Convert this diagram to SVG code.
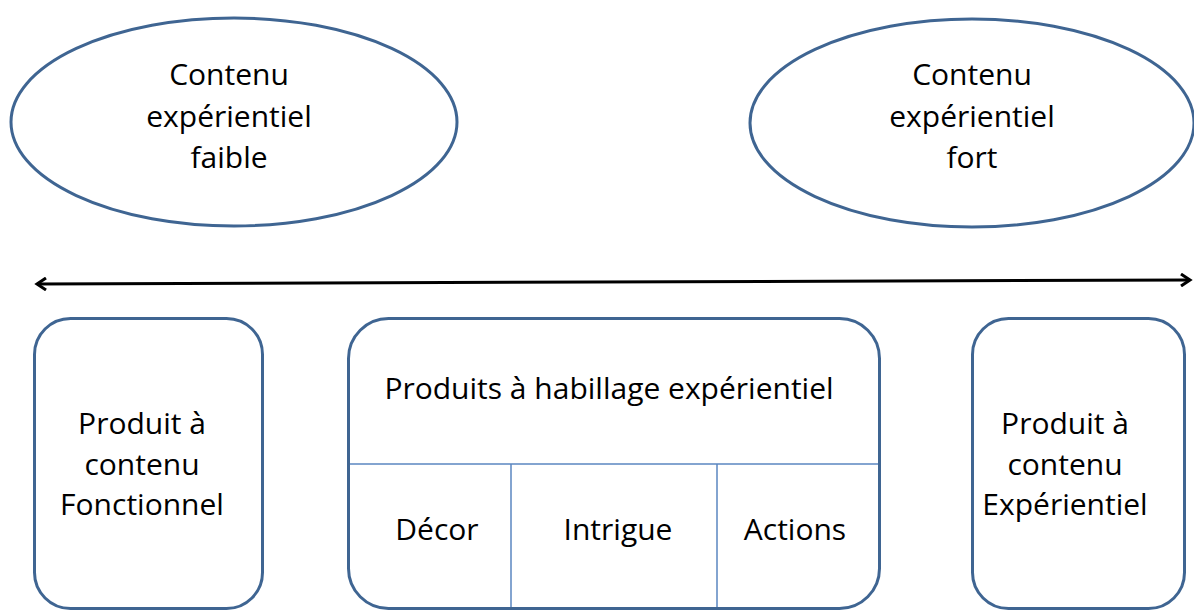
<svg xmlns="http://www.w3.org/2000/svg" width="1194" height="610" viewBox="0 0 1194 610">
<style>
.shape{fill:#fff;stroke:#3f6592;stroke-width:3}
.div{stroke:#5a86c0;stroke-width:1.5;fill:none}
text{font-family:"Open Sans","Noto Sans","Liberation Sans",sans-serif;font-size:30px;fill:#000;text-anchor:middle}
</style>
<defs>
<marker id="ah" markerWidth="14" markerHeight="14" refX="11" refY="7" orient="auto-start-reverse" markerUnits="userSpaceOnUse">
<path d="M2,1 L11,7 L2,13" fill="none" stroke="#000" stroke-width="3"/>
</marker>
</defs>
<rect width="1194" height="610" fill="#fff"/>
<g id="ellipse-faible">
<ellipse class="shape" cx="234" cy="122" rx="223" ry="104"/>
<text x="229" y="85">Contenu</text>
<text x="229" y="127">expérientiel</text>
<text x="229" y="168">faible</text>
</g>
<g id="ellipse-fort">
<ellipse class="shape" cx="972" cy="123" rx="222" ry="104"/>
<text x="972" y="85">Contenu</text>
<text x="972" y="127">expérientiel</text>
<text x="972" y="168">fort</text>
</g>
<g id="connectors">
<line x1="37" y1="284" x2="1190" y2="280" stroke="#000" stroke-width="3" marker-start="url(#ah)" marker-end="url(#ah)"/>
</g>
<g id="box-fonctionnel">
<rect class="shape" x="34.5" y="318.5" width="228" height="290" rx="36"/>
<text x="142" y="434">Produit à</text>
<text x="142" y="475">contenu</text>
<text x="142" y="515">Fonctionnel</text>
</g>
<g id="box-habillage">
<rect class="shape" x="348.5" y="318.5" width="531" height="290" rx="40"/>
<line class="div" x1="350" y1="464" x2="878" y2="464"/>
<line class="div" x1="511" y1="464" x2="511" y2="607"/>
<line class="div" x1="717" y1="464" x2="717" y2="607"/>
<text x="609" y="399">Produits à habillage expérientiel</text>
<text x="437" y="540">Décor</text>
<text x="618" y="540">Intrigue</text>
<text x="795" y="540">Actions</text>
</g>
<g id="box-experientiel">
<rect class="shape" x="972.5" y="318.5" width="212" height="290" rx="36"/>
<text x="1065" y="434">Produit à</text>
<text x="1065" y="475">contenu</text>
<text x="1065" y="515">Expérientiel</text>
</g>
</svg>
